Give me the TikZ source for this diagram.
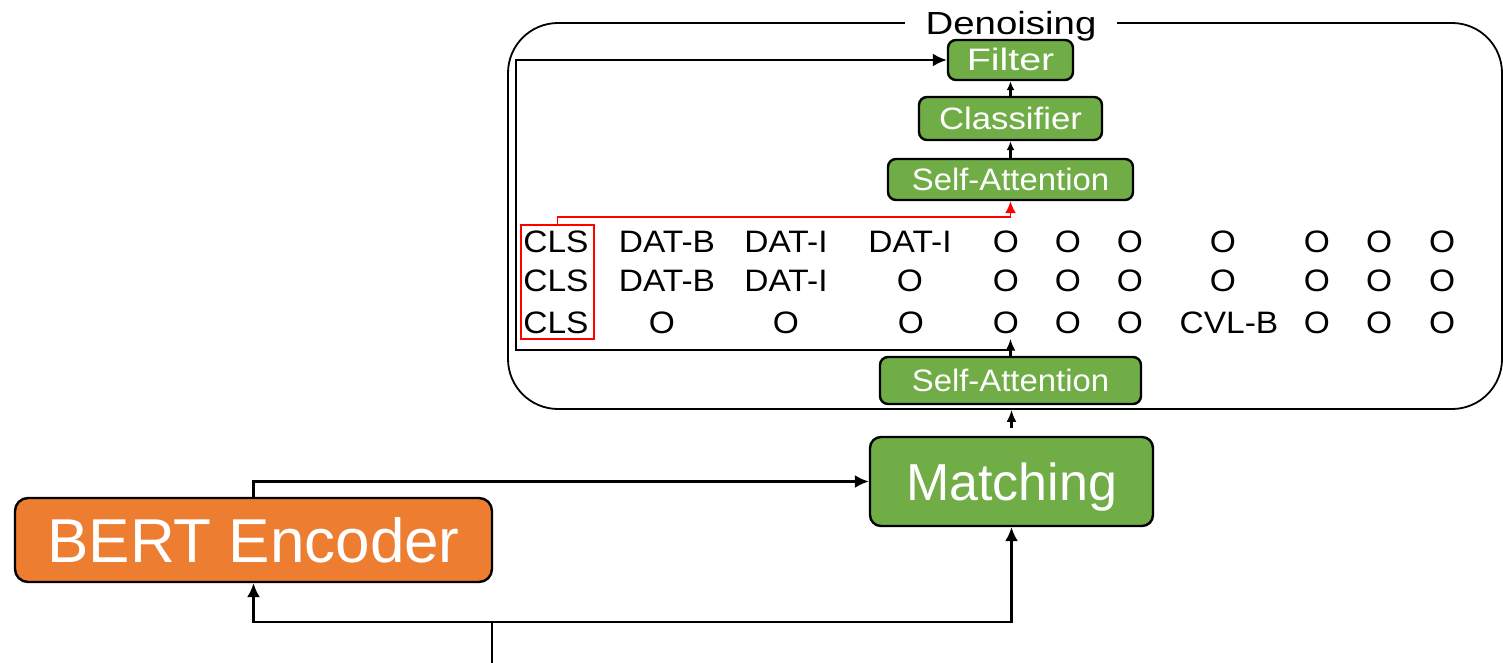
\documentclass[tikz,border=0pt]{standalone}
\usepackage{fontspec}
\setmainfont{Liberation Sans}
\usepackage{graphicx}
\usetikzlibrary{arrows.meta,fit}

\definecolor{boxorange}{HTML}{ED7D31}
\definecolor{boxgreen}{HTML}{70AD47}
% horizontally widened text
\newcommand\hs[2]{\scalebox{#1}[1]{#2}}

\begin{document}
\begin{tikzpicture}[x=0.5pt,y=-0.5pt,
  blk/.style={draw=black, line width=1.2pt, text=white, inner sep=0pt, text depth=0pt},
  orangebox/.style={blk, fill=boxorange, rounded corners=6.5pt},
  greenbox/.style={blk, fill=boxgreen, rounded corners=4pt},
  smallfont/.style={font=\fontsize{15.5}{18}\selectfont, text height=11pt},
  tok/.style={anchor=base, inner xsep=0pt, inner ysep=2.5pt, font=\fontsize{15.5}{18}\selectfont},
  conn/.style={draw=black, line width=1.05pt},
  tipA/.style={-{Latex[length=7pt,width=6.5pt]}},
  tipB/.style={-{Latex[length=6pt,width=5pt]}},
  tipC/.style={-{Latex[length=4.5pt,width=4pt]}},
  redline/.style={draw=red, line width=0.9pt}]
\useasboundingbox (0,0) rectangle (1503,663);

% outer denoising frame
\node[draw=black, line width=0.9pt, rounded corners=25pt, inner sep=0pt,
      fit={(508,23) (1502,409)}] (den) {};
\node[fill=white, inner xsep=10.5pt, inner ysep=1pt, font=\fontsize{16}{18}\selectfont,
      text height=11.3pt, text depth=0pt] (denlab) at (1011,23)
      {\hs{1.2}{Denoising}};

% processing blocks
\node[orangebox, minimum width=238.5pt, minimum height=42pt,
      font=\fontsize{31}{36}\selectfont, text height=22.2pt] (bert) at (253.5,540) {BERT Encoder};
\node[greenbox, rounded corners=5.5pt, minimum width=141.5pt, minimum height=44.5pt,
      font=\fontsize{26}{30}\selectfont, text height=18.6pt] (match) at (1011.5,481.5) {Matching};
\node[greenbox, minimum width=130.5pt, minimum height=23.5pt, smallfont] (sa1) at (1010.5,380.5) {\hs{1.06}{Self-Attention}};
\node[greenbox, minimum width=122.5pt, minimum height=20.5pt, smallfont] (sa2) at (1010.5,179.5) {\hs{1.06}{Self-Attention}};
\node[greenbox, minimum width=91.5pt, minimum height=21.5pt, smallfont] (clf) at (1010.5,118.5) {\hs{1.12}{Classifier}};
\node[greenbox, minimum width=62.5pt, minimum height=20pt, smallfont] (filter) at (1010.5,60) {\hs{1.27}{Filter}};

% token tag rows
\foreach \xx/\lab [count=\c] in {556/CLS,667/DAT-B,786/DAT-I,910/DAT-I,1006/O,1068/O,1130/O,1223/O,1317/O,1379/O,1442/O}
  \node[tok] (r1c\c) at (\xx,252) {\hs{1.08}{\lab}};
\foreach \xx/\lab [count=\c] in {556/CLS,667/DAT-B,786/DAT-I,910/O,1006/O,1068/O,1130/O,1223/O,1317/O,1379/O,1442/O}
  \node[tok] (r2c\c) at (\xx,292) {\hs{1.08}{\lab}};
\foreach \xx/\lab [count=\c] in {556/CLS,662/O,786/O,911/O,1006/O,1068/O,1130/O,1229/CVL-B,1317/O,1379/O,1442/O}
  \node[tok] (r3c\c) at (\xx,333) {\hs{1.08}{\lab}};

% CLS column
\node[redline, inner sep=0pt, fit={(521,225) (594,339)}] (clsbox) {};

% connectors
\coordinate (in) at (492,663);
\coordinate (split) at (492,622);
\coordinate (lft) at (516,350);
\coordinate (jn) at (sa1.north |- lft);

\draw[conn, tipA] (in) -- (split) -| (bert.south);
\draw[conn, tipA] (split) -| (match.south);
\draw[conn, tipA] (bert.north) |- (match.west);
\draw[conn, tipB, shorten <=4pt] (match.north) -- (match.north |- den.south);
\draw[conn, tipB] (sa1.north) -- (sa1.north |- r3c5.south);
\draw[conn, tipA] (jn) -- (lft) |- (filter.west);
\draw[redline, -{Latex[length=6pt,width=5.5pt]}, red] (clsbox.north) -- ++(0,-7) -| (sa2.south);
\draw[conn, tipC] (sa2.north) -- (clf.south);
\draw[conn, tipC] (clf.north) -- (filter.south);
\end{tikzpicture}
\end{document}
